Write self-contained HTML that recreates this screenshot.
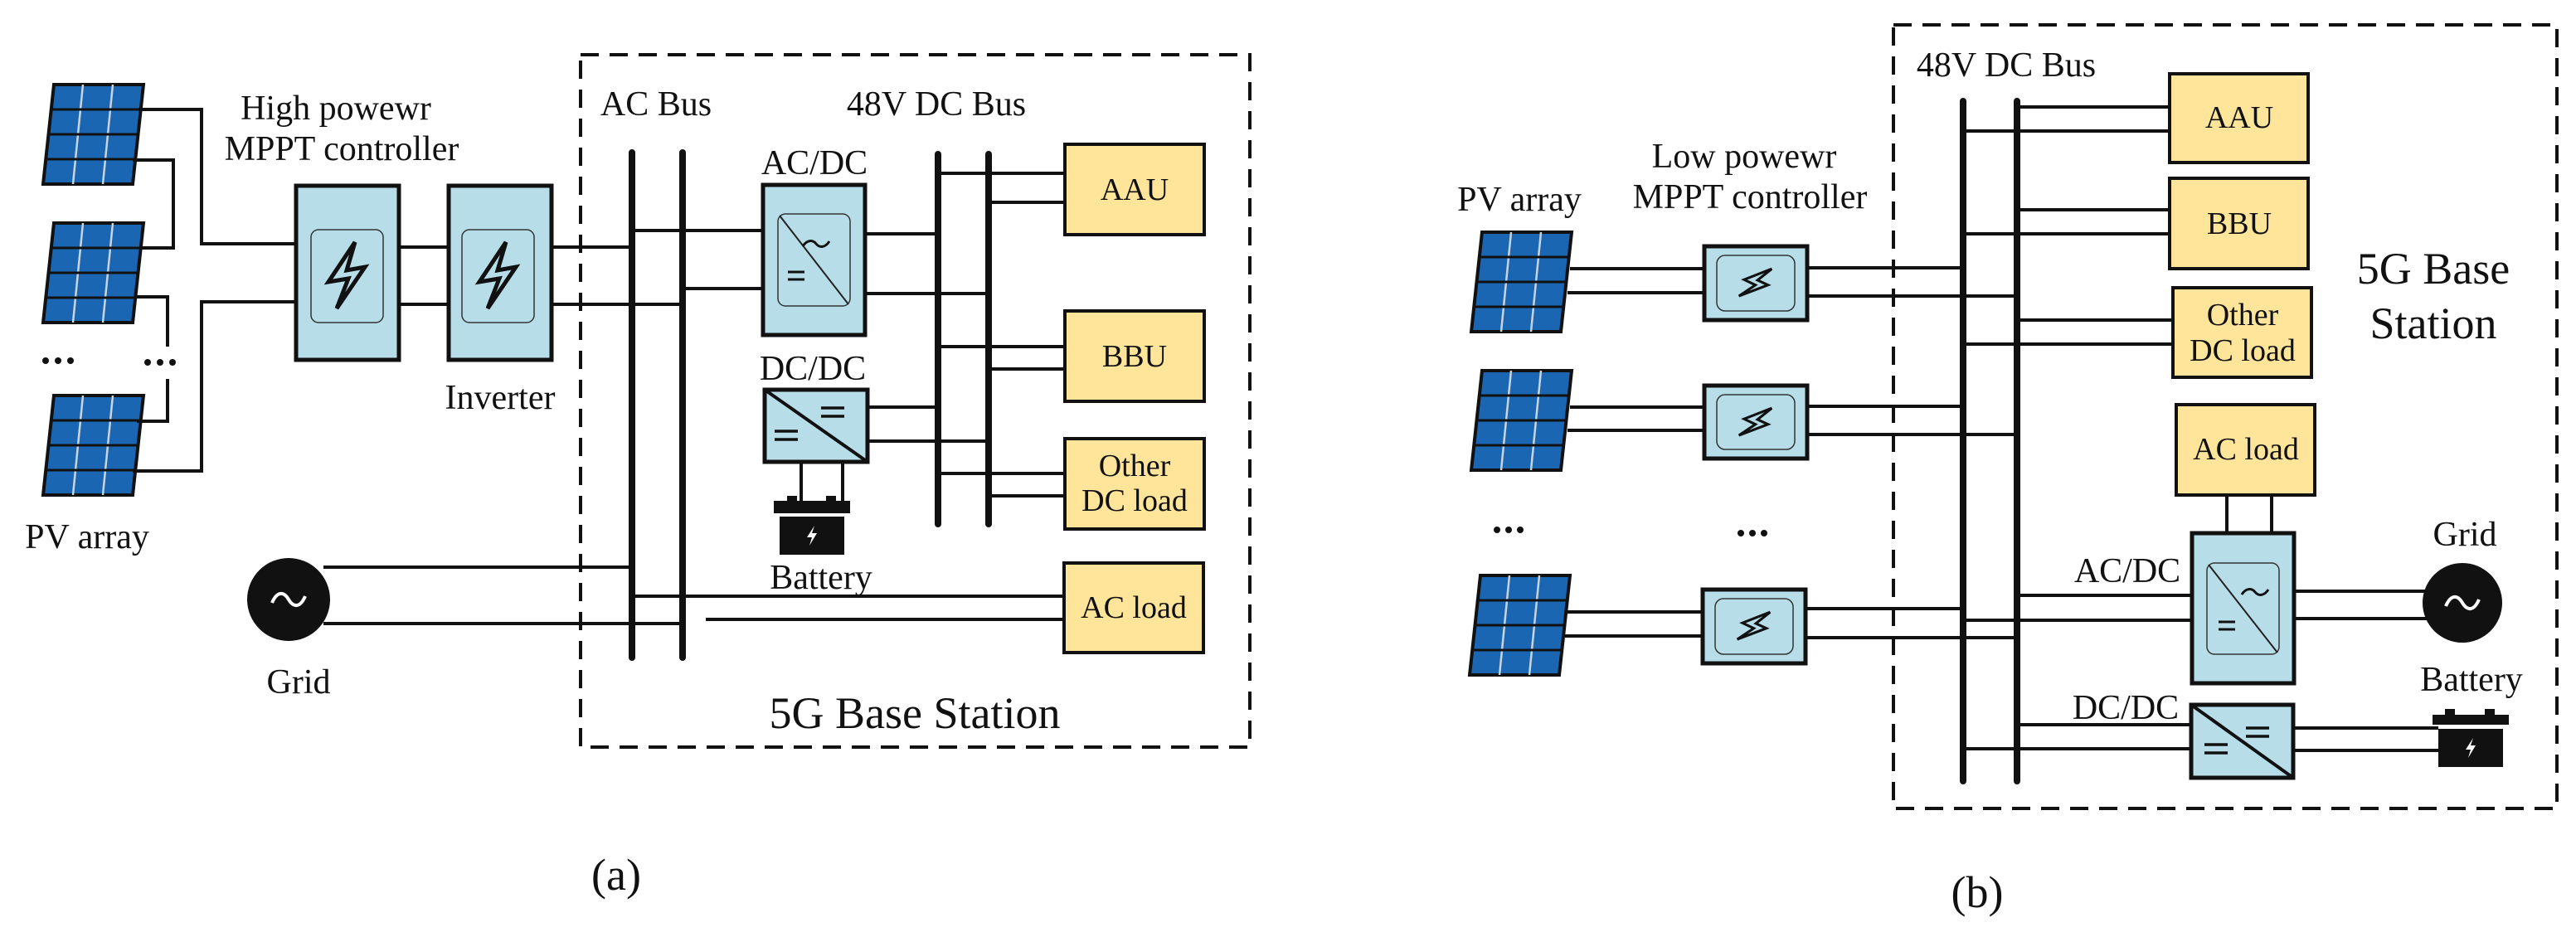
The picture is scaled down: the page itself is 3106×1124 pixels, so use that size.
<!DOCTYPE html>
<html><head><meta charset="utf-8"><style>
html,body{margin:0;padding:0;background:#fff;}
svg{display:block;}
svg text{font-family:"Liberation Serif","Times New Roman",serif !important;fill:#111;}
</style></head><body>
<svg width="3106" height="1124" viewBox="0 0 3106 1124" xmlns="http://www.w3.org/2000/svg" font-family="Liberation Serif, serif">
<defs>
<g id="pv">
 <polygon points="13,0 121,0 108,120 0,120" fill="#1a66b2" stroke="#111" stroke-width="4"/>
 <g stroke="#c8d4e0" stroke-width="2.5">
  <line x1="48" y1="0" x2="36" y2="120"/><line x1="84" y1="0" x2="72" y2="120"/>
 </g>
 <g stroke="#111" stroke-width="3">
  <line x1="10" y1="30" x2="118" y2="30"/><line x1="7" y1="60" x2="115" y2="60"/><line x1="4" y1="90" x2="112" y2="90"/>
 </g>
</g>
<path id="bolt" d="M10,-40 L-22,8 L2,4 L-12,40 L22,-10 L0,-6 Z" fill="none" stroke="#111" stroke-width="5" stroke-linejoin="miter"/>
<path id="wbolt" d="M3,-12 L-6,2 L0,2 L-3,12 L6,-3 L0,-3 Z" fill="#fff"/>
</defs>

<!-- ================= (a) ================= -->
<rect x="700" y="66" width="807" height="835" fill="none" stroke="#111" stroke-width="4" stroke-dasharray="22,13"/>

<use href="#pv" x="52" y="102"/>
<use href="#pv" x="52" y="269"/>
<use href="#pv" x="52" y="477"/>

<g fill="none" stroke="#111" stroke-width="4">
 <path d="M167,132 H243 V294 H357"/>
 <path d="M160,193 H209 V299 H168"/>
 <path d="M163,358 H202 V418"/>
 <path d="M202,457 V508 H165"/>
 <path d="M160,568 H243 V364 H357"/>
 <path d="M481,298 H541 M481,367 H541"/>
 <path d="M665,298 H762 M665,367 H823"/>
 <path d="M762,278 H920 M823,348 H920"/>
 <path d="M1043,282 H1131 M1043,354 H1192"/>
 <path d="M1046,491 H1131 M1046,532 H1192"/>
 <path d="M966,557 V604 M1016,557 V604"/>
 <path d="M1131,209 H1284 M1192,244 H1284"/>
 <path d="M1131,418 H1284 M1192,445 H1284"/>
 <path d="M1131,571 H1284 M1192,598 H1284"/>
 <path d="M762,719 H1283 M851,747 H1283"/>
 <path d="M390,684 H762 M390,752 H823"/>
</g>
<g fill="#111">
 <circle cx="55" cy="435" r="4"/><circle cx="70" cy="435" r="4"/><circle cx="85" cy="435" r="4"/>
 <circle cx="178" cy="437" r="4"/><circle cx="193" cy="437" r="4"/><circle cx="208" cy="437" r="4"/>
</g>

<rect x="357" y="224" width="124" height="210" fill="#b7dde8" stroke="#111" stroke-width="5"/>
<rect x="375" y="277" width="87" height="112" rx="9" fill="#b7dde8" stroke="#333" stroke-width="1.5"/>
<use href="#bolt" x="418" y="332"/>
<rect x="541" y="224" width="124" height="210" fill="#b7dde8" stroke="#111" stroke-width="5"/>
<rect x="557" y="277" width="87" height="112" rx="9" fill="#b7dde8" stroke="#333" stroke-width="1.5"/>
<use href="#bolt" x="600" y="332"/>

<g stroke="#111" stroke-width="8" stroke-linecap="round">
 <line x1="762" y1="184" x2="762" y2="793"/><line x1="823" y1="184" x2="823" y2="793"/>
 <line x1="1131" y1="186" x2="1131" y2="632"/><line x1="1192" y1="186" x2="1192" y2="632"/>
</g>

<rect x="920" y="223" width="123" height="181" fill="#b7dde8" stroke="#111" stroke-width="5"/>
<rect x="938" y="258" width="87" height="111" rx="9" fill="#b7dde8" stroke="#333" stroke-width="1.5"/>
<line x1="940" y1="260" x2="1023" y2="367" stroke="#222" stroke-width="2"/>
<path d="M968,297 c5,-8 12,-8 16,-3 s11,5 16,-3" fill="none" stroke="#111" stroke-width="3"/>
<path d="M950,328 H970 M950,337 H970" stroke="#111" stroke-width="3"/>

<rect x="922" y="470" width="124" height="87" fill="#b7dde8" stroke="#111" stroke-width="5"/>
<line x1="922" y1="470" x2="1046" y2="557" stroke="#111" stroke-width="4"/>
<path d="M990,492 H1018 M990,502 H1018" stroke="#111" stroke-width="3.5"/>
<path d="M934,520 H962 M934,530 H962" stroke="#111" stroke-width="3.5"/>

<rect x="949" y="598" width="12" height="8" fill="#111"/><rect x="996" y="598" width="12" height="8" fill="#111"/>
<rect x="933" y="604" width="92" height="15" fill="#111"/>
<rect x="940" y="623" width="78" height="46" fill="#111"/>
<use href="#wbolt" x="979" y="646"/>

<g fill="#ffe599" stroke="#111" stroke-width="4">
 <rect x="1284" y="174" width="168" height="109"/>
 <rect x="1284" y="375" width="168" height="109"/>
 <rect x="1284" y="529" width="168" height="109"/>
 <rect x="1283" y="679" width="168" height="108"/>
</g>

<circle cx="348" cy="723" r="50" fill="#111"/>
<path d="M328,727 c6,-14 14,-14 20,-4 s14,10 20,-4" fill="none" stroke="#fff" stroke-width="4"/>

<g font-size="42" text-anchor="middle" dominant-baseline="central">
 <text x="405" y="131">High powewr</text>
 <text x="412" y="180">MPPT controller</text>
 <text x="603" y="480">Inverter</text>
 <text x="105" y="648">PV array</text>
 <text x="360" y="823">Grid</text>
 <text x="791" y="126">AC Bus</text>
 <text x="1129" y="126">48V DC Bus</text>
 <text x="982" y="197">AC/DC</text>
 <text x="980" y="445">DC/DC</text>
 <text x="990" y="697">Battery</text>
</g>
<g font-size="38" text-anchor="middle" dominant-baseline="central">
 <text x="1368" y="229">AAU</text>
 <text x="1368" y="430">BBU</text>
 <text x="1368" y="562">Other</text>
 <text x="1368" y="604">DC load</text>
 <text x="1367" y="733">AC load</text>
</g>
<text x="1103" y="860" font-size="54" text-anchor="middle" dominant-baseline="central">5G Base Station</text>
<text x="743" y="1055" font-size="54" text-anchor="middle" dominant-baseline="central">(a)</text>

<!-- ================= (b) ================= -->
<rect x="2283" y="30" width="800" height="945" fill="none" stroke="#111" stroke-width="4" stroke-dasharray="22,13"/>

<use href="#pv" x="1774" y="280"/>
<use href="#pv" x="1774" y="447"/>
<use href="#pv" x="1772" y="694"/>

<g fill="none" stroke="#111" stroke-width="4">
 <path d="M1893,324 H2055 M1890,353 H2055"/>
 <path d="M2179,323 H2367 M2179,357 H2432"/>
 <path d="M1893,491 H2055 M1890,519 H2055"/>
 <path d="M2179,490 H2367 M2179,524 H2432"/>
 <path d="M1890,738 H2053 M1887,767 H2053"/>
 <path d="M2177,734 H2367 M2177,769 H2432"/>
 <path d="M2432,129 H2616 M2367,158 H2616"/>
 <path d="M2432,253 H2616 M2367,282 H2616"/>
 <path d="M2432,386 H2620 M2367,415 H2620"/>
 <path d="M2685,597 V643 M2739,597 V643"/>
 <path d="M2432,718 H2643 M2367,748 H2643"/>
 <path d="M2766,713 H2935 M2766,746 H2935"/>
 <path d="M2432,874 H2642 M2367,903 H2642"/>
 <path d="M2765,878 H2940 M2765,905 H2940"/>
</g>
<g stroke="#111" stroke-width="8" stroke-linecap="round">
 <line x1="2367" y1="122" x2="2367" y2="942"/><line x1="2432" y1="122" x2="2432" y2="942"/>
</g>
<g fill="#111">
 <circle cx="1805" cy="639" r="4"/><circle cx="1819" cy="639" r="4"/><circle cx="1833" cy="639" r="4"/>
 <circle cx="2099" cy="643" r="4"/><circle cx="2113" cy="643" r="4"/><circle cx="2127" cy="643" r="4"/>
</g>

<g>
 <rect x="2055" y="297" width="124" height="89" fill="#b7dde8" stroke="#111" stroke-width="5"/>
 <rect x="2070" y="308" width="94" height="67" rx="10" fill="#b7dde8" stroke="#333" stroke-width="1.5"/>
 <use href="#bolt" transform="translate(2117,341) rotate(35) scale(0.62)"/>
 <rect x="2055" y="465" width="124" height="88" fill="#b7dde8" stroke="#111" stroke-width="5"/>
 <rect x="2070" y="476" width="94" height="66" rx="10" fill="#b7dde8" stroke="#333" stroke-width="1.5"/>
 <use href="#bolt" transform="translate(2117,509) rotate(35) scale(0.62)"/>
 <rect x="2053" y="711" width="124" height="89" fill="#b7dde8" stroke="#111" stroke-width="5"/>
 <rect x="2068" y="722" width="94" height="67" rx="10" fill="#b7dde8" stroke="#333" stroke-width="1.5"/>
 <use href="#bolt" transform="translate(2115,755) rotate(35) scale(0.62)"/>
</g>

<g fill="#ffe599" stroke="#111" stroke-width="4">
 <rect x="2616" y="89" width="167" height="107"/>
 <rect x="2616" y="215" width="167" height="109"/>
 <rect x="2620" y="347" width="167" height="108"/>
 <rect x="2624" y="488" width="167" height="109"/>
</g>

<rect x="2643" y="643" width="123" height="181" fill="#b7dde8" stroke="#111" stroke-width="5"/>
<rect x="2661" y="679" width="87" height="110" rx="9" fill="#b7dde8" stroke="#333" stroke-width="1.5"/>
<line x1="2663" y1="681" x2="2746" y2="787" stroke="#222" stroke-width="2"/>
<path d="M2703,717 c5,-8 12,-8 16,-3 s11,5 16,-3" fill="none" stroke="#111" stroke-width="3"/>
<path d="M2675,750 H2695 M2675,759 H2695" stroke="#111" stroke-width="3"/>

<rect x="2642" y="850" width="123" height="88" fill="#b7dde8" stroke="#111" stroke-width="5"/>
<line x1="2642" y1="850" x2="2765" y2="938" stroke="#111" stroke-width="4"/>
<path d="M2708,878 H2736 M2708,888 H2736" stroke="#111" stroke-width="3.5"/>
<path d="M2658,898 H2686 M2658,908 H2686" stroke="#111" stroke-width="3.5"/>

<circle cx="2969" cy="727" r="48" fill="#111"/>
<path d="M2949,731 c6,-14 14,-14 20,-4 s14,10 20,-4" fill="none" stroke="#fff" stroke-width="4"/>

<rect x="2948" y="855" width="12" height="9" fill="#111"/><rect x="2996" y="855" width="12" height="9" fill="#111"/>
<rect x="2933" y="862" width="92" height="12" fill="#111"/>
<rect x="2940" y="879" width="78" height="46" fill="#111"/>
<use href="#wbolt" x="2979" y="902"/>

<g font-size="42" text-anchor="middle" dominant-baseline="central">
 <text x="2419" y="79">48V DC Bus</text>
 <text x="1832" y="241">PV array</text>
 <text x="2103" y="189">Low powewr</text>
 <text x="2110" y="238">MPPT controller</text>
 <text x="2565" y="689">AC/DC</text>
 <text x="2563" y="854">DC/DC</text>
 <text x="2972" y="645">Grid</text>
 <text x="2980" y="820">Battery</text>
</g>
<g font-size="38" text-anchor="middle" dominant-baseline="central">
 <text x="2700" y="142">AAU</text>
 <text x="2700" y="270">BBU</text>
 <text x="2704" y="380">Other</text>
 <text x="2704" y="423">DC load</text>
 <text x="2708" y="542">AC load</text>
</g>
<g font-size="54" text-anchor="middle" dominant-baseline="central">
 <text x="2934" y="324">5G Base</text>
 <text x="2934" y="390">Station</text>
</g>
<text x="2384" y="1076" font-size="54" text-anchor="middle" dominant-baseline="central">(b)</text>
</svg>
</body></html>
